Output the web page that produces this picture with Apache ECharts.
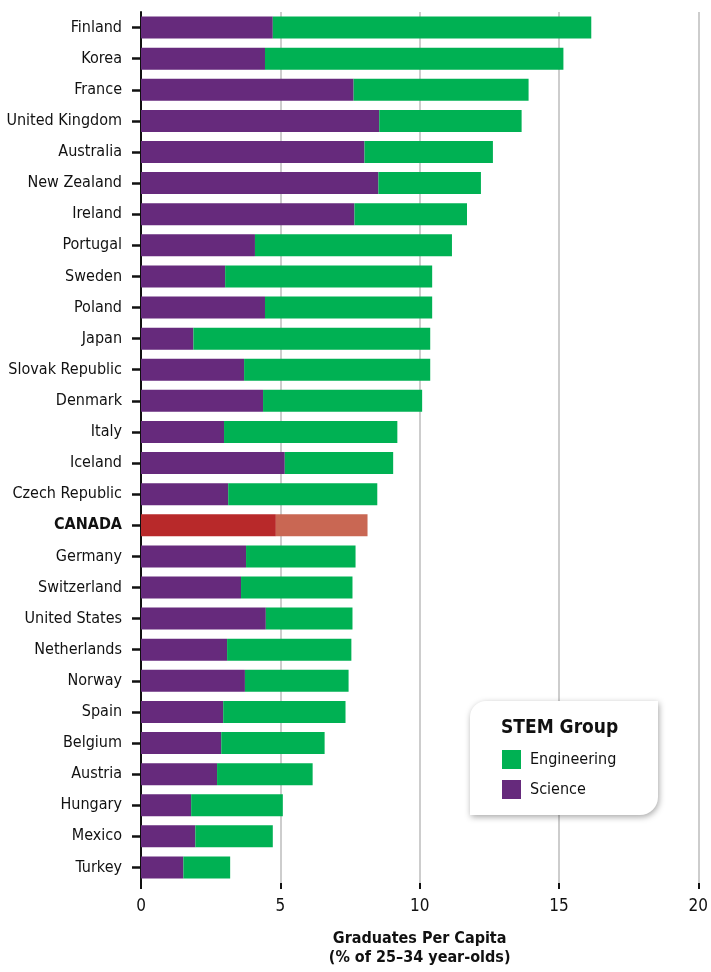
<!DOCTYPE html>
<html>
<head>
<meta charset="utf-8">
<script src="https://cdn.jsdelivr.net/npm/echarts@6/dist/echarts.min.js"></script>
<style>
  html, body { margin: 0; padding: 0; background: #fff; }
  #chart { width: 711px; height: 972px; }
</style>
</head>
<body>
<div id="chart"></div>
<script>
// countries, top to bottom
const countries = ['Finland', 'Korea', 'France', 'United Kingdom', 'Australia', 'New Zealand', 'Ireland',
  'Portugal', 'Sweden', 'Poland', 'Japan', 'Slovak Republic', 'Denmark', 'Italy', 'Iceland',
  'Czech Republic', 'CANADA', 'Germany', 'Switzerland', 'United States', 'Netherlands', 'Norway',
  'Spain', 'Belgium', 'Austria', 'Hungary', 'Mexico', 'Turkey'];
// science graduates per capita
const science = [4.73, 4.45, 7.63, 8.55, 8.02, 8.52, 7.66, 4.09, 3.02, 4.45, 1.88, 3.70, 4.38, 2.98,
  5.16, 3.13, 4.84, 3.77, 3.59, 4.48, 3.09, 3.73, 2.95, 2.88, 2.73, 1.80, 1.95, 1.52];
// science + engineering total
const totals = [16.16, 15.16, 13.91, 13.66, 12.63, 12.20, 11.70, 11.16, 10.45, 10.45, 10.38, 10.38,
  10.09, 9.20, 9.05, 8.48, 8.13, 7.70, 7.59, 7.59, 7.55, 7.45, 7.34, 6.59, 6.16, 5.09, 4.73, 3.20];
const xTicks = [0, 5, 10, 15, 20];

const purple = '#662a7c';
const green = '#00b153';
const fontFam = "'Liberation Sans Narrow', 'DejaVu Sans Condensed', 'Noto Sans', sans-serif";

const engineering = totals.map((t, i) => +(t - science[i]).toFixed(2));

const sciData = science.map((v, i) => countries[i] === 'CANADA'
  ? { value: v, itemStyle: { color: '#b8292a' } } : v);
const engData = engineering.map((v, i) => countries[i] === 'CANADA'
  ? { value: v, itemStyle: { color: '#c96753' } } : v);

const chart = echarts.init(document.getElementById('chart'));
chart.setOption({
  animation: false,
  textStyle: { fontFamily: fontFam },
  grid: { left: 141, right: 10, top: 12, bottom: 85, containLabel: false },
  xAxis: {
    type: 'value',
    min: xTicks[0],
    max: xTicks[xTicks.length - 1],
    interval: 5,
    name: 'Graduates Per Capita\n(% of 25–34 year-olds)',
    nameLocation: 'middle',
    nameGap: 46,
    nameTextStyle: { fontSize: 16, fontWeight: 'bold', color: '#111', lineHeight: 19, fontFamily: fontFam },
    axisLine: { lineStyle: { color: '#111', width: 2 } },
    axisTick: { show: true, length: 6, lineStyle: { color: '#111', width: 2 } },
    axisLabel: { fontSize: 17, color: '#111', margin: 15 },
    splitLine: { show: true, lineStyle: { color: '#bdbdbd', width: 1.5 } }
  },
  yAxis: {
    type: 'category',
    inverse: true,
    data: countries,
    axisLine: { lineStyle: { color: '#111', width: 2 } },
    axisTick: { show: true, alignWithLabel: true, length: 9, lineStyle: { color: '#111', width: 2.5 } },
    axisLabel: {
      fontSize: 16, color: '#111', margin: 19,
      formatter: v => v === 'CANADA' ? '{b|' + v + '}' : v,
      rich: { b: { fontWeight: 'bold', fontSize: 16, color: '#111', fontFamily: fontFam } }
    }
  },
  legend: {
    z: 60,
    orient: 'vertical',
    left: 497,
    top: 745,
    itemWidth: 19,
    itemHeight: 19,
    itemGap: 11,
    icon: 'rect',
    data: ['Engineering', 'Science'],
    textStyle: { fontSize: 16, color: '#111', padding: [0, 0, 0, 4] }
  },
  graphic: [
    {
      type: 'rect',
      z: 50,
      shape: { x: 470, y: 701, width: 188, height: 114, r: [16, 0, 18, 0] },
      style: { fill: '#fff', shadowBlur: 6, shadowColor: 'rgba(0,0,0,0.35)', shadowOffsetX: 1, shadowOffsetY: 2 }
    },
    {
      type: 'text',
      z: 51,
      left: 501,
      top: 719,
      style: { text: 'STEM Group', font: 'bold 19px ' + fontFam, fill: '#111' }
    }
  ],
  series: [
    {
      name: 'Science', type: 'bar', stack: 'total', data: sciData,
      barWidth: 22, itemStyle: { color: purple }
    },
    {
      name: 'Engineering', type: 'bar', stack: 'total', data: engData,
      barWidth: 22, itemStyle: { color: green }
    }
  ]
});
</script>
</body>
</html>
